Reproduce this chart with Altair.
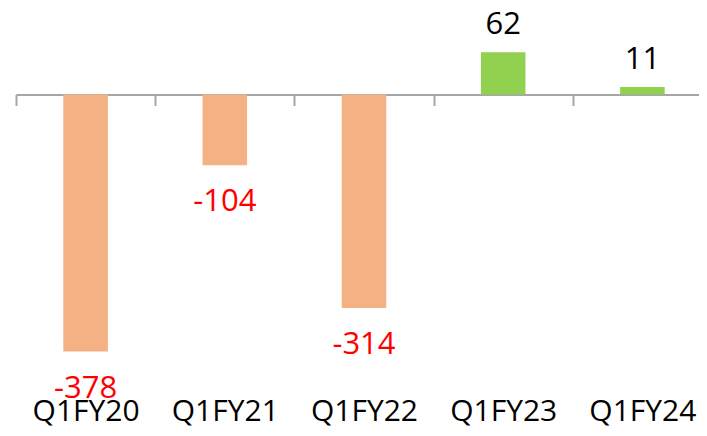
import altair as alt
import pandas as pd

categories = ["Q1FY20", "Q1FY21", "Q1FY22", "Q1FY23", "Q1FY24"]
values = [-378, -104, -314, 62, 11]
value_labels = ["-378", "-104", "-314", "62", "11"]

df = pd.DataFrame({"quarter": categories, "value": values, "label": value_labels})
df["sign"] = ["neg" if v < 0 else "pos" for v in values]

AXIS_GREY = "#A6A6A6"
STEP = 696 / 5

x = alt.X(
    "quarter:N",
    sort=categories,
    title=None,
    scale=alt.Scale(range=[0, 696], paddingInner=0.68, paddingOuter=0.34),
    axis=alt.Axis(
        orient="bottom",
        offset=-333.5,
        domainColor=AXIS_GREY,
        domainWidth=2,
        tickColor=AXIS_GREY,
        tickWidth=2,
        tickSize=11,
        tickOffset=-STEP / 2,
        labelOffset=STEP / 2,
        labelFont="Open Sans",
        labelFontSize=30,
        labelColor="black",
        labelBaseline="alphabetic",
        labelPadding=314.5,
        labelAngle=0,
        labelOverlap=False,
    ),
)
y = alt.Y(
    "value:Q",
    scale=alt.Scale(domain=[-490.4, 127.2], nice=False, zero=False),
    axis=None,
)

base = alt.Chart(df)

bars = base.mark_bar().encode(
    x=x,
    y=y,
    y2=alt.datum(0),
    color=alt.Color(
        "sign:N",
        scale=alt.Scale(domain=["neg", "pos"], range=["#F4B183", "#92D050"]),
        legend=None,
    ),
)

neg_text = (
    base.transform_filter("datum.value < 0")
    .mark_text(baseline="alphabetic", dy=46, font="Open Sans", fontSize=31, color="#FF0000")
    .encode(x=x, y=y, text="label:N")
)
pos_text = (
    base.transform_filter("datum.value >= 0")
    .mark_text(baseline="alphabetic", dy=-18, font="Open Sans", fontSize=31, color="#000000")
    .encode(x=x, y=y, text="label:N")
)

chart = (
    alt.layer(bars, neg_text, pos_text)
    .properties(
        width=683,
        height=420,
        autosize=alt.AutoSizeParams(type="none"),
        padding={"left": 8, "top": 0, "right": 0, "bottom": 0},
        background="white",
    )
    .configure_view(stroke=None)
)

chart.save("out.html", embed_options={"renderer": "svg", "actions": False})
